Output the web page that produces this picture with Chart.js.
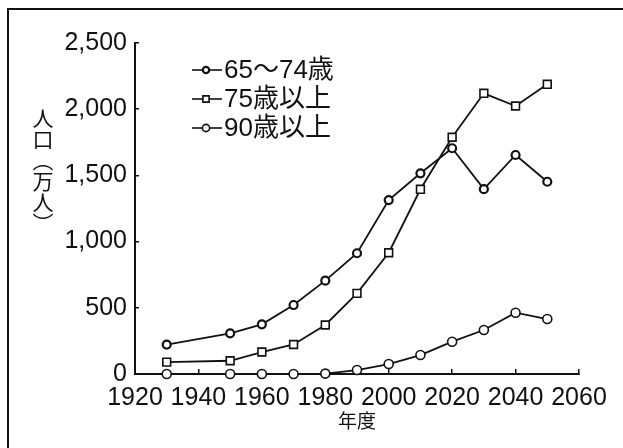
<!DOCTYPE html>
<html lang="ja">
<head>
<meta charset="UTF-8">
<title>人口推移</title>
<script src="https://cdn.jsdelivr.net/npm/chart.js"></script>
<style>
  body { margin: 0; background: #fff; }
  .tela { position: relative; width: 623px; height: 448px; }
  .moldura { position: absolute; left: 7px; top: 8px; right: 0; bottom: 0;
             border-left: 2px solid #111; border-top: 2px solid #111; }
  .titulo_y { position: absolute; left: 32px; top: 108px; writing-mode: vertical-rl;
              font-family: "Noto Sans CJK JP", sans-serif; font-size: 21px; line-height: 1; color: #111; }
</style>
</head>
<body>
<div class="tela">
  <div class="moldura"></div>
  <canvas id="myChart"></canvas>
  <div class="titulo_y">人口（万人）</div>
</div>

<script>
// dados
const anos = [1930, 1950, 1960, 1970, 1980, 1990, 2000, 2010, 2020, 2030, 2040, 2050];
const idade65a74 = [222, 307, 375, 521, 705, 912, 1314, 1516, 1705, 1396, 1654, 1452];
const idade75mais = [90, 100, 166, 223, 370, 609, 916, 1395, 1788, 2120, 2024, 2188];
const idade90mais = [0, 0, 0, 0, 3, 30, 75, 143, 244, 332, 463, 415];
const nomesSeries = ['65〜74歳', '75歳以上', '90歳以上'];
const ticksX = [1920, 1940, 1960, 1980, 2000, 2020, 2040, 2060];
const ticksY = [0, 500, 1000, 1500, 2000, 2500];
const rotulosY = ['0', '500', '1,000', '1,500', '2,000', '2,500'];

const fonteNum = '"Liberation Sans", "Noto Sans CJK JP", sans-serif';

function pontos(valores) {
    return anos.map(function (a, i) { return { x: a, y: valores[i] }; });
}

function serie(label, valores, estilo, raio, bw) {
    return {
        label: label,
        data: pontos(valores),
        borderColor: '#111',
        borderWidth: 1.8,
        pointStyle: estilo,
        pointRadius: raio,
        pointBorderWidth: bw,
        pointBackgroundColor: '#fff',
        pointBorderColor: '#111',
        tension: 0,
        clip: false
    };
}

// legenda desenhada dentro da area do grafico
const legendaInterna = {
    id: 'legendaInterna',
    afterDatasetsDraw(chart) {
        const ctx = chart.ctx;
        ctx.save();
        chart.data.datasets.forEach(function (ds, i) {
            const y = 70 + i * 29;
            ctx.strokeStyle = ds.borderColor;
            ctx.lineWidth = 1.6;
            ctx.beginPath();
            ctx.moveTo(192, y);
            ctx.lineTo(222, y);
            ctx.stroke();
            ctx.fillStyle = '#fff';
            ctx.lineWidth = ds.pointBorderWidth;
            Chart.helpers.drawPoint(ctx, { pointStyle: ds.pointStyle, radius: ds.pointRadius * 0.8, borderWidth: ds.pointBorderWidth }, 206, y);
            ctx.fillStyle = '#111';
            ctx.font = '26px ' + fonteNum;
            ctx.textBaseline = 'middle';
            ctx.textAlign = 'left';
            ctx.fillText(ds.label, 224, y + 1);
        });
        ctx.restore();
    }
};

const config = {
    type: 'line',
    data: {
        datasets: [
            serie(nomesSeries[0], idade65a74, 'circle', 4, 2.2),
            serie(nomesSeries[1], idade75mais, 'rect', 5.5, 1.6),
            serie(nomesSeries[2], idade90mais, 'circle', 4.5, 1.6)
        ]
    },
    options: {
        responsive: true,
        maintainAspectRatio: false,
        animation: false,
        layout: { padding: { left: 0, right: 44, top: 43, bottom: 0 } },
        plugins: {
            legend: { display: false },
            tooltip: { enabled: false }
        },
        scales: {
            x: {
                type: 'linear',
                min: 1920,
                max: 2060,
                afterBuildTicks: function (s) { s.ticks = ticksX.map(function (v) { return { value: v }; }); },
                afterFit: function (s) { s.height = 74; },
                border: { color: '#111', width: 2 },
                grid: { drawOnChartArea: false, drawTicks: true, tickLength: -5, color: '#111', lineWidth: 1.5 },
                ticks: {
                    color: '#111',
                    padding: 14,
                    maxRotation: 0,
                    font: { family: fonteNum, size: 25 },
                    callback: function (v) { return String(v); }
                },
                title: {
                    display: true,
                    text: '年度',
                    color: '#111',
                    padding: { top: 0, bottom: 16 },
                    font: { family: '"Noto Sans CJK JP", sans-serif', size: 19 }
                }
            },
            y: {
                min: 0,
                max: 2500,
                afterBuildTicks: function (s) { s.ticks = ticksY.map(function (v) { return { value: v }; }); },
                afterFit: function (s) { s.width = 135; },
                border: { color: '#111', width: 2 },
                grid: { drawOnChartArea: false, drawTicks: true, tickLength: -4, color: '#111', lineWidth: 1.5 },
                ticks: {
                    color: '#111',
                    padding: 12,
                    font: { family: fonteNum, size: 25 },
                    callback: function (v) { return rotulosY[ticksY.indexOf(v)]; }
                }
            }
        }
    },
    plugins: [legendaInterna]
};

let myChart = new Chart(document.getElementById('myChart'), config);
</script>
</body>
</html>
